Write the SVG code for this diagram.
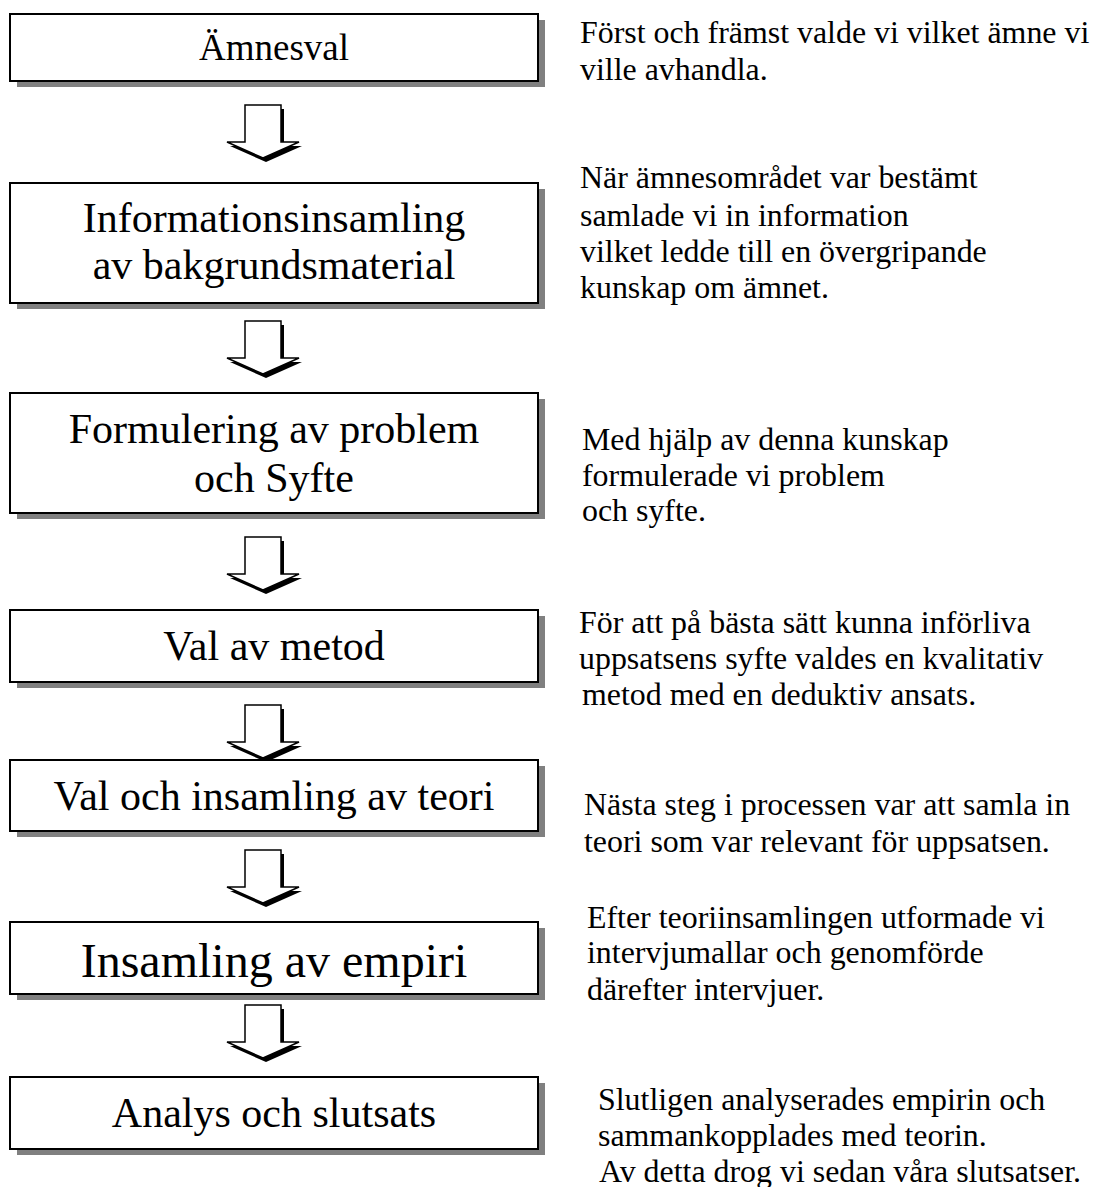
<svg xmlns="http://www.w3.org/2000/svg" xmlns:xlink="http://www.w3.org/1999/xlink" width="1094" height="1187" viewBox="0 0 1094 1187">
<style>
  .box { fill: #ffffff; stroke: #000000; stroke-width: 2; }
  .shadow { fill: #808080; }
  .t { font-family: "Liberation Serif", "Times New Roman", serif; fill: #000000; }
  .bt { text-anchor: middle; font-size: 42px; }
  .rt { font-size: 31.9px; }
  .arr { fill: #ffffff; stroke: #000000; stroke-width: 1.5; stroke-linejoin: miter; }
  .arrsh { fill: #000000; }
</style>
<defs>
  <path id="arrow" d="M-18,0 H18 V37 H36 L0,53 L-36,37 H-18 Z"/>
</defs>
<rect width="1094" height="1187" fill="#ffffff"/>

<g id="connectors">
  <g transform="translate(263,105)"><use xlink:href="#arrow" class="arrsh" transform="translate(3,4)"/><use xlink:href="#arrow" class="arr"/></g>
  <g transform="translate(263,321)"><use xlink:href="#arrow" class="arrsh" transform="translate(3,4)"/><use xlink:href="#arrow" class="arr"/></g>
  <g transform="translate(263,537)"><use xlink:href="#arrow" class="arrsh" transform="translate(3,4)"/><use xlink:href="#arrow" class="arr"/></g>
  <g transform="translate(263,705)"><use xlink:href="#arrow" class="arrsh" transform="translate(3,4)"/><use xlink:href="#arrow" class="arr"/></g>
  <g transform="translate(263,850)"><use xlink:href="#arrow" class="arrsh" transform="translate(3,4)"/><use xlink:href="#arrow" class="arr"/></g>
  <g transform="translate(263,1005)"><use xlink:href="#arrow" class="arrsh" transform="translate(3,4)"/><use xlink:href="#arrow" class="arr"/></g>
</g>

<g id="n1">
  <rect class="shadow" x="17" y="20" width="528" height="67"/>
  <rect class="box" x="10" y="14" width="528" height="67"/>
  <text class="t bt" x="274" y="60" style="font-size:37px">Ämnesval</text>
</g>
<g id="n2">
  <rect class="shadow" x="17" y="189" width="528" height="120"/>
  <rect class="box" x="10" y="183" width="528" height="120"/>
  <text class="t bt" x="274" y="232">Informationsinsamling</text>
  <text class="t bt" x="274" y="279">av bakgrundsmaterial</text>
</g>
<g id="n3">
  <rect class="shadow" x="17" y="399" width="528" height="120"/>
  <rect class="box" x="10" y="393" width="528" height="120"/>
  <text class="t bt" x="274" y="443">Formulering av problem</text>
  <text class="t bt" x="274" y="492">och Syfte</text>
</g>
<g id="n4">
  <rect class="shadow" x="17" y="616" width="528" height="72"/>
  <rect class="box" x="10" y="610" width="528" height="72"/>
  <text class="t bt" x="274" y="660">Val av metod</text>
</g>
<g id="n5">
  <rect class="shadow" x="17" y="766" width="528" height="71"/>
  <rect class="box" x="10" y="760" width="528" height="71"/>
  <text class="t bt" x="274" y="810">Val och insamling av teori</text>
</g>
<g id="n6">
  <rect class="shadow" x="17" y="928" width="528" height="72"/>
  <rect class="box" x="10" y="922" width="528" height="72"/>
  <text class="t bt" x="274" y="977" style="font-size:48px">Insamling av empiri</text>
</g>
<g id="n7">
  <rect class="shadow" x="17" y="1083" width="528" height="72"/>
  <rect class="box" x="10" y="1077" width="528" height="72"/>
  <text class="t bt" x="274" y="1127">Analys och slutsats</text>
</g>

<g id="descriptions">
  <text class="t rt" x="580" y="43">Först och främst valde vi vilket ämne vi</text>
  <text class="t rt" x="580" y="80">ville avhandla.</text>

  <text class="t rt" x="580" y="188">När ämnesområdet var bestämt</text>
  <text class="t rt" x="580" y="226">samlade vi in information</text>
  <text class="t rt" x="580" y="262">vilket ledde till en övergripande</text>
  <text class="t rt" x="580" y="298">kunskap om ämnet.</text>

  <text class="t rt" x="582" y="450">Med hjälp av denna kunskap</text>
  <text class="t rt" x="582" y="486">formulerade vi problem</text>
  <text class="t rt" x="582" y="521">och syfte.</text>

  <text class="t rt" x="579" y="633">För att på bästa sätt kunna införliva</text>
  <text class="t rt" x="579" y="669">uppsatsens syfte valdes en kvalitativ</text>
  <text class="t rt" x="582" y="705">metod med en deduktiv ansats.</text>

  <text class="t rt" x="584" y="815">Nästa steg i processen var att samla in</text>
  <text class="t rt" x="584" y="852">teori som var relevant för uppsatsen.</text>

  <text class="t rt" x="587" y="928">Efter teoriinsamlingen utformade vi</text>
  <text class="t rt" x="587" y="963">intervjumallar och genomförde</text>
  <text class="t rt" x="587" y="1000">därefter intervjuer.</text>

  <text class="t rt" x="598" y="1110">Slutligen analyserades empirin och</text>
  <text class="t rt" x="598" y="1146">sammankopplades med teorin.</text>
  <text class="t rt" x="599" y="1182">Av detta drog vi sedan våra slutsatser.</text>
</g>
</svg>
